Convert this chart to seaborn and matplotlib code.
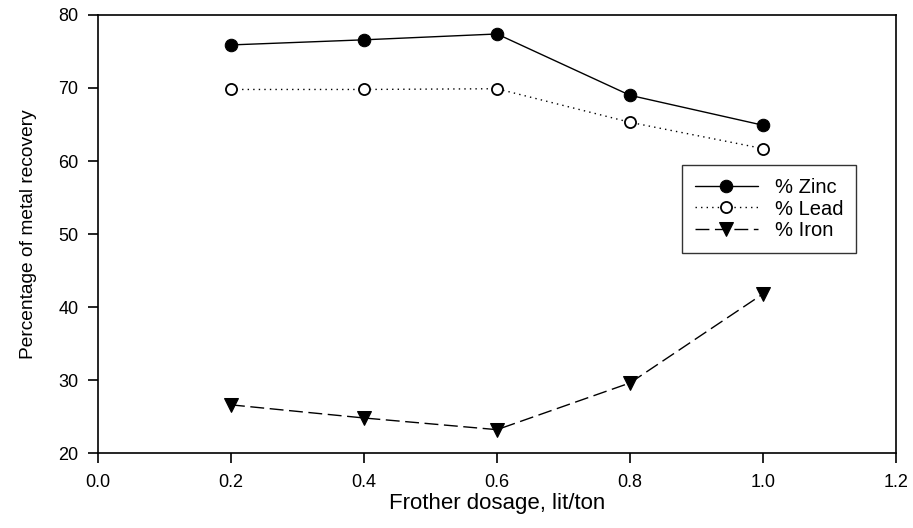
import matplotlib
matplotlib.use("Agg")
import matplotlib.pyplot as plt
import seaborn as sns
import pandas as pd

dosage = [0.2, 0.4, 0.6, 0.8, 1.0]
zinc = [75.9, 76.6, 77.4, 69.0, 64.9]
lead = [69.8, 69.8, 69.9, 65.3, 61.7]
iron = [26.6, 24.8, 23.2, 29.6, 41.8]

x_ticks = [0.0, 0.2, 0.4, 0.6, 0.8, 1.0, 1.2]
y_ticks = [20, 30, 40, 50, 60, 70, 80]

sns.set_theme(style="ticks")
plt.rcParams['font.family'] = ['Liberation Sans', 'DejaVu Sans']
plt.rcParams['text.color'] = 'black'
plt.rcParams['axes.labelcolor'] = 'black'

fig = plt.figure(figsize=(9.13, 5.28), dpi=100)
ax = fig.add_axes([0.1073, 0.142, 0.8741, 0.8296])

df = pd.DataFrame({"dosage": dosage, "zinc": zinc, "lead": lead, "iron": iron})

sns.lineplot(data=df, x="dosage", y="zinc", ax=ax, color="black", lw=1.0,
             marker="o", markersize=9, markerfacecolor="black",
             markeredgecolor="black", label="% Zinc")
sns.lineplot(data=df, x="dosage", y="lead", ax=ax, color="black", lw=1.0,
             marker="o", markersize=8, markerfacecolor="white",
             markeredgecolor="black", markeredgewidth=1.3, label="% Lead")
sns.lineplot(data=df, x="dosage", y="iron", ax=ax, color="black", lw=1.0,
             marker="v", markersize=10, markerfacecolor="black",
             markeredgecolor="black", label="% Iron")
ax.lines[1].set_linestyle((0, (1, 3)))
ax.lines[2].set_linestyle((0, (10, 4)))

ax.set_xlim(0.0, 1.2)
ax.set_ylim(20, 80)
ax.set_xticks(x_ticks)
ax.set_xticklabels([f"{v:.1f}" for v in x_ticks])
ax.set_yticks(y_ticks)
ax.tick_params(axis="both", direction="out", length=7, width=1.2,
               colors="black", labelcolor="black")
ax.tick_params(axis="x", labelsize=13, pad=8)
ax.tick_params(axis="y", labelsize=13, pad=7)
for s in ax.spines.values():
    s.set_linewidth(1.2)
    s.set_color("black")

ax.set_xlabel("Frother dosage, lit/ton", fontsize=16, color="black")
ax.set_ylabel("Percentage of metal recovery", fontsize=13.8, color="black")
ax.xaxis.set_label_coords(0.5, -0.092)
ax.yaxis.set_label_coords(-0.076, 0.5)

leg = ax.legend(loc="upper left", bbox_to_anchor=(0.732, 0.6575),
                fontsize=14.5, frameon=True, fancybox=False, edgecolor="black",
                handlelength=3.1, borderpad=0.65, labelspacing=0.12,
                handletextpad=0.85, borderaxespad=0)
leg.get_frame().set_linewidth(1.0)
for t in leg.get_texts():
    t.set_color("black")

fig.savefig("out.png", dpi=100)
